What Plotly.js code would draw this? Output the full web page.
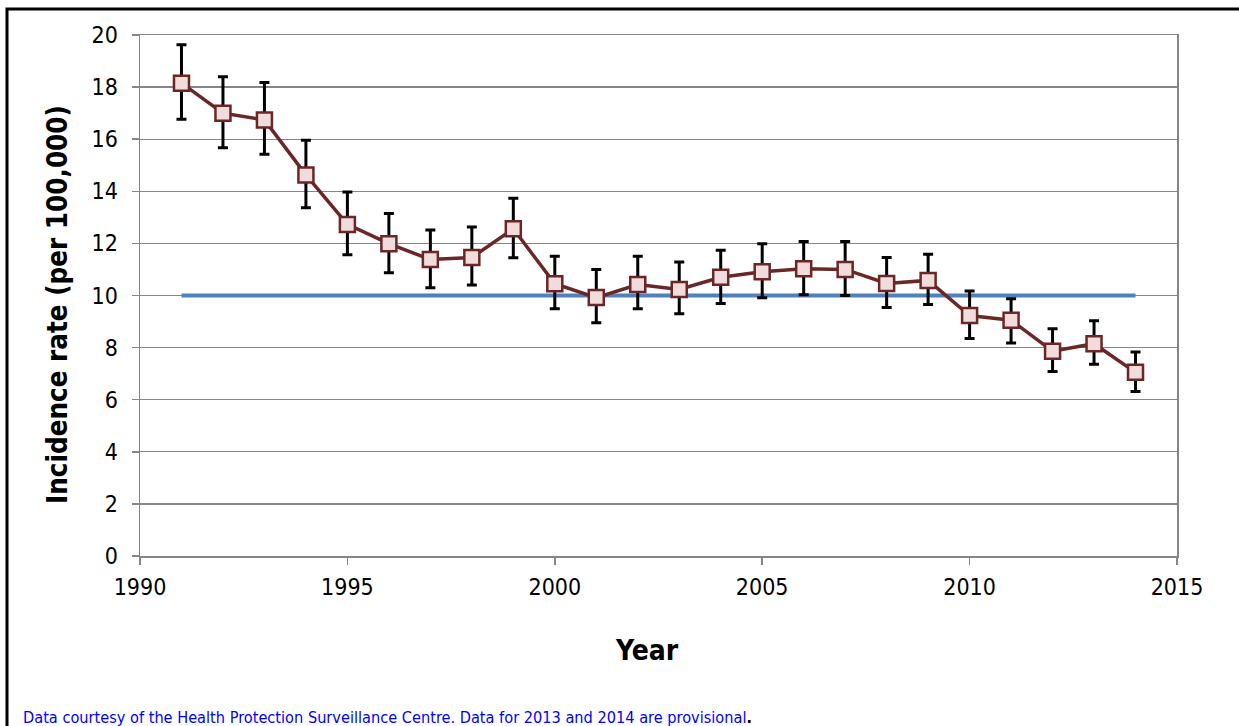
<!DOCTYPE html>
<html>
<head>
<meta charset="utf-8">
<script src="https://cdn.plot.ly/plotly-3.0.1.min.js"></script>
<style>
html,body{margin:0;padding:0;overflow:hidden;background:#fff;}
#chart{width:1239px;height:726px;}
</style>
</head>
<body>
<div id="chart"></div>
<script>
const years = [1991,1992,1993,1994,1995,1996,1997,1998,1999,2000,2001,2002,2003,2004,2005,2006,2007,2008,2009,2010,2011,2012,2013,2014];
const incidence = [18.15,17.0,16.74,14.63,12.73,11.99,11.38,11.46,12.56,10.45,9.92,10.42,10.23,10.7,10.91,11.03,11.0,10.46,10.58,9.23,9.05,7.86,8.15,7.05];
const errPlus = [1.48,1.4,1.44,1.33,1.24,1.16,1.13,1.17,1.17,1.06,1.08,1.09,1.06,1.04,1.08,1.04,1.07,1.0,1.0,0.94,0.83,0.86,0.88,0.78];
const errMinus = [1.38,1.33,1.32,1.26,1.17,1.12,1.08,1.06,1.11,0.96,0.97,0.93,0.93,1.01,1.0,1.0,1.0,0.92,0.93,0.88,0.87,0.78,0.79,0.74];
const targetYears = [1991, 2014];
const targetValue = [10, 10];
const xTicks = [1990,1995,2000,2005,2010,2015];
const yTicks = [0,2,4,6,8,10,12,14,16,18,20];

const fam = "'DejaVu Sans Condensed', 'DejaVu Sans', Verdana, sans-serif";
const tickFont = {family: fam, size: 23, color: '#000'};
const PW = 1037, PH = 521, PL = 140, PB = 556;

const traces = [
  {
    x: targetYears, y: targetValue, type: 'scatter', mode: 'lines',
    line: {color: '#4F81BD', width: 4}, hoverinfo: 'skip', showlegend: false
  },
  {
    x: years, y: incidence, type: 'scatter', mode: 'lines+markers',
    line: {color: '#6B2727', width: 3.5},
    marker: {symbol: 'square', size: 15, color: '#F2DCDB', line: {color: '#6B2727', width: 2.5}},
    error_y: {type: 'data', symmetric: false, array: errPlus, arrayminus: errMinus,
              color: '#000', thickness: 3, width: 5},
    showlegend: false
  }
];

const layout = {
  width: 1239, height: 726,
  margin: {l: 140, r: 62, t: 35, b: 170},
  paper_bgcolor: '#fff', plot_bgcolor: '#fff',
  showlegend: false,
  xaxis: {
    range: [1990, 2015], tickvals: xTicks, ticktext: xTicks.map(String),
    showgrid: false, zeroline: false,
    showline: true, mirror: true, linecolor: '#868686', linewidth: 1.5,
    ticks: 'outside', ticklen: 7, tickcolor: '#868686', tickwidth: 1.5,
    tickfont: tickFont, ticklabelstandoff: 3
  },
  yaxis: {
    range: [0, 20], tickvals: yTicks, ticktext: yTicks.map(String),
    showgrid: true, gridcolor: '#868686', gridwidth: 1.3, zeroline: false,
    showline: true, mirror: true, linecolor: '#868686', linewidth: 1.5,
    ticks: 'outside', ticklen: 7, tickcolor: '#868686', tickwidth: 1.5,
    tickfont: tickFont, ticklabelstandoff: 9
  },
  shapes: [
    {type: 'rect', xref: 'paper', yref: 'paper',
     x0: (7 - PL) / PW, x1: 1.2, y0: -0.6, y1: (PB - 9) / PH,
     line: {color: '#000', width: 3}, fillcolor: 'rgba(0,0,0,0)', layer: 'above'}
  ],
  annotations: [
    {xref: 'paper', yref: 'paper', x: (647 - PL) / PW, y: (PB - 650) / PH,
     xanchor: 'center', yanchor: 'middle', showarrow: false,
     text: '<b>Year</b>', font: {family: fam, size: 28, color: '#000'}},
    {xref: 'paper', yref: 'paper', x: (57 - PL) / PW, y: (PB - 305) / PH,
     xanchor: 'center', yanchor: 'middle', showarrow: false, textangle: -90,
     text: '<b>Incidence rate (per 100,000)</b>', font: {family: fam, size: 27.5, color: '#000'}},
    {xref: 'paper', yref: 'paper', x: (21 - PL) / PW, y: (PB - 729) / PH,
     xanchor: 'left', yanchor: 'bottom', showarrow: false, align: 'left',
     text: "Data courtesy of the Health Protection Surveillance Centre. Data for 2013 and 2014 are provisional<span style='color:#000'><b>.</b></span>",
     font: {family: fam, size: 16.2, color: '#0000FF'}}
  ]
};

Plotly.newPlot('chart', traces, layout, {displayModeBar: false, staticPlot: true});
</script>
</body>
</html>
